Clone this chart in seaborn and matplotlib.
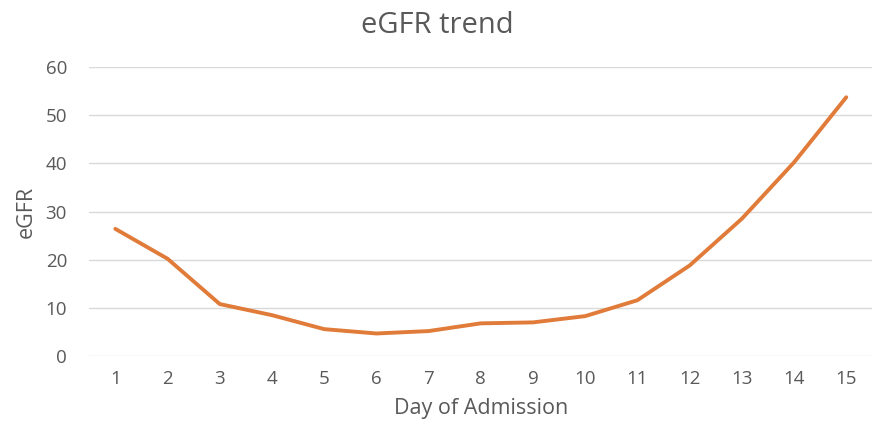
import matplotlib
matplotlib.use("Agg")
import matplotlib.pyplot as plt
import pandas as pd
import seaborn as sns

# ===== Data =====
days = list(range(1, 16))
egfr = [26.4, 20.2, 10.8, 8.5, 5.6, 4.7, 5.2, 6.8, 7.0, 8.3, 11.6, 18.8, 28.5, 40.2, 53.7]
y_ticks = [0, 10, 20, 30, 40, 50, 60]

df = pd.DataFrame({"Day": days, "eGFR": egfr})

# ===== Style =====
sns.set_theme(style="white")
plt.rcParams["font.family"] = ["Open Sans", "DejaVu Sans"]
grey = "#595959"

fig = plt.figure(figsize=(8.75, 4.26), dpi=100)
ax = fig.add_axes([0.102, 0.164, 0.895, 0.679])

sns.lineplot(data=df, x="Day", y="eGFR", ax=ax, color="#E07B39", linewidth=2.8)

ax.set_xlim(0.5, 15.5)
ax.set_ylim(0, 60)
ax.set_xticks(days)
ax.set_yticks(y_ticks)
ax.yaxis.grid(True, color="#D9D9D9", linewidth=1.0)
ax.set_axisbelow(True)
for s in ax.spines.values():
    s.set_visible(False)
ax.tick_params(axis="both", length=0, labelsize=13.5, labelcolor=grey)
ax.tick_params(axis="x", pad=10)
ax.tick_params(axis="y", pad=16)

ax.set_xlabel("Day of Admission", fontsize=15.5, color=grey, labelpad=7)
ax.set_ylabel("eGFR", fontsize=15.5, color=grey, labelpad=6)
fig.suptitle("eGFR trend", fontsize=21, color=grey, x=0.5, y=0.975)

fig.savefig("out.png", dpi=100)
